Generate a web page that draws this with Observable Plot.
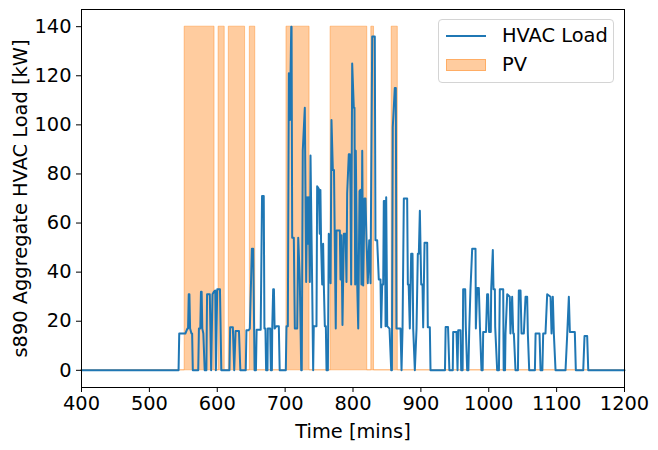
<!DOCTYPE html>
<html><head><meta charset="utf-8">
<script src="https://cdn.jsdelivr.net/npm/d3@7"></script>
<script src="https://cdn.jsdelivr.net/npm/@observablehq/plot@0.6"></script>
<style>
body{margin:0;background:#fff;}
#wrap{position:relative;width:658px;height:450px;font-family:"DejaVu Sans",sans-serif;}
.legend{position:absolute;left:438px;top:19px;width:176px;height:64px;box-sizing:border-box;border:1px solid #d4d4d4;border-radius:4px;background:rgba(255,255,255,0.8);font-size:19.4px;color:#000;}
.legend .sw-line{position:absolute;left:7px;top:14.7px;width:40px;height:2px;background:#1f77b4;}
.legend .sw-patch{position:absolute;left:7px;top:38.5px;width:40px;height:12.5px;box-sizing:border-box;background:rgba(255,127,14,0.4);border:1px solid rgba(255,127,14,0.4);}
.legend .lab{position:absolute;left:63px;line-height:1;}
</style></head>
<body><div id="wrap"></div>
<script>
// HVAC load series (time in minutes, load in kW)
const times = [400,543,544,553,556,557,558,559,560,562,563,564,
572,573,575,576,577,578,579.5,581.5,
584,585,589,591,593,595,597,598,600,604,606,
618,619,623,625,627,632,634,
642,643,646,648,651,653,655,657,658,664,666,668.5,669.5,671,672,674,674.5,678,679,680.5,681,682.4,683.5,684.5,687,690.7,692,
701,702,704,705.5,707,709,709.5,710.4,712.8,714.3,717.8,719.3,721.6,723.7,724.5,726,729,731,732.4,733.3,734.9,736.4,737.4,739.8,741.3,742.2,746.2,747.2,749.6,751,752,753,754.6,756,757,758.5,760,761,763,
764.3,766,767,768.3,770.3,772,774.6,775.7,780.6,781.6,783,784.5,786.5,789,790.4,791.4,793.8,795.3,796.3,797.3,798.8,801.2,802.2,803.2,804.1,806.2,807.7,809.6,811,812.5,813.6,815,817,818.4,819.9,821.8,823.9,825.8,828.3,832.1,
833.1,835.6,838,840.5,841.5,843,844.5,845.4,846.9,848,848.9,850.4,853.8,856.3,857.3,858.6,861.6,863.1,864,870,871.5,873,874.9,879.8,880.8,882,883.7,885.7,887.7,888.7,891.1,893.6,895.5,897,898.5,900.5,902.4,903.4,905.4,909.3,910.2,913.2,914.2,
935.5,936.5,940,942,947,947.6,952.5,954,955,958.4,959.4,961.5,962.3,965.3,966.2,968.2,970,971.2,973,975.6,980.5,981,983,985.4,987,989.3,991,991.8,996,997.6,999,1000.5,1003,1003.6,1006,1007,1009,1009.5,1012.4,1015,1016.3,1021.3,1022,1024,1024.7,1027.2,1031,1032,1034.5,1036,1037,1039.4,1043,1044.3,1046.8,1048.3,1051.7,1054.2,1056.6,1057.6,1059.6,1068,1069,1074.8,1076.3,1079,1080.2,1083.6,1086.1,1091,1092.5,1094.4,1095.9,1098.4,1113.1,1115.6,1118,1119.5,1126.8,1128.3,1139.2,1141.1,1145,1146.6,1200];
const loads = [0,0,15,15,17,17,31,31,17,15,15,0,
0,17,17,32,32,17,15,0,
0,31,31,0,31,32,32.5,0,33,33,0,
0,17.5,17.5,0,16,16,0,
0,16.3,16.3,17,49.5,49.5,0,0,16.5,16.5,71,71,17,17,0,0,17,17,0,0,17,33,33,17,18,18,0,
0,18,18,121,102,140,140,54,54,17,17,54,37,0,0,89.5,107,36,70.5,51.6,70.5,36,87.5,36,0,18,18,75,74,55.6,73.5,51.6,35,51.6,35,18,18,0,0,
55.6,54,35.5,102,81.6,81.6,17,57,57,37,55,18.5,55.6,55.6,36,72,88,88,73.5,35,125,107,107,35,89.5,35,17,73,73.5,35,89.5,34.6,70,70,53,35.5,53,35.5,136,136,
53,53,37,37,17.5,35,35,69,69,18,70.5,18,17,0,0,99,115,115,17,17,0,17,70,70,35,35,17,47.5,47.5,17,0,17,47.5,47.5,65,35,35,17.5,52,52,17.5,17.5,0,
0,17.6,17.6,0,0,15.6,15.6,0,16.3,16.3,0,0,33,33,17.6,0,0,15.6,32.5,49.5,49.5,17,33.5,33.5,17.6,0,0,15.6,15.6,31,31,15.6,15.6,33,49,33,33,17.6,0,0,33,33,0,0,15,31,30,15,30,15,15,0,0,32.5,32.5,15,15,30,30,15,0,0,15,15,0,0,15,15,31,30,15,30,15,0,0,14.6,30,15.6,15.6,0,0,14,14,0,0];

// PV availability windows (minutes) and PV band height
const pvStart = [552,602,617,648,702,767,827,857];
const pvEnd   = [596,611,641,656,736,821,831,866];
const pvLevel = 140;

const xTicks = [400,500,600,700,800,900,1000,1100,1200];
const yTicks = [0,20,40,60,80,100,120,140];

const hvac = times.map((t,i)=>({t, v: loads[i]}));
const pv = [{t:400, v:0}];
pvStart.forEach((s,i)=>{
  pv.push({t:s, v:0},{t:s, v:pvLevel},{t:pvEnd[i], v:pvLevel},{t:pvEnd[i], v:0});
});
pv.push({t:1200, v:0});

const chart = Plot.plot({
  width: 658,
  height: 450,
  marginLeft: 81,
  marginRight: 34,
  marginTop: 9,
  marginBottom: 63,
  style: {fontFamily: "DejaVu Sans, sans-serif", fontSize: "19.4px", color: "#000", background: "#fff"},
  x: {domain: [400,1200]},
  y: {domain: [-7,147]},
  marks: [
    Plot.area(pv, {x1:"t", y1:0, y2:"v", fill:"#ff7f0e", fillOpacity:0.4, stroke:"#ff7f0e", strokeOpacity:0.4, strokeWidth:1, curve:"linear"}),
    Plot.line(hvac, {x:"t", y:"v", stroke:"#1f77b4", strokeWidth:2, curve:"linear"}),
    Plot.frame({stroke:"#000", strokeWidth:1}),
    Plot.axisX({ticks:xTicks, tickFormat:d3.format("d"), tickSize:5, tickPadding:4, label:"Time [mins]", labelAnchor:"center", labelArrow:"none", labelOffset:50}),
    Plot.axisY({ticks:yTicks, tickFormat:d3.format("d"), tickSize:5, tickPadding:5, label:"s890 Aggregate HVAC Load [kW]", labelAnchor:"center", labelArrow:"none", labelOffset:68})
  ]
});
const wrap = document.getElementById("wrap");
wrap.appendChild(chart);
const leg = document.createElement("div");
leg.className = "legend";
leg.innerHTML = '<div class="sw-line"></div><div class="lab" style="top:6px">HVAC Load</div><div class="sw-patch"></div><div class="lab" style="top:35px">PV</div>';
wrap.appendChild(leg);
</script></body></html>
